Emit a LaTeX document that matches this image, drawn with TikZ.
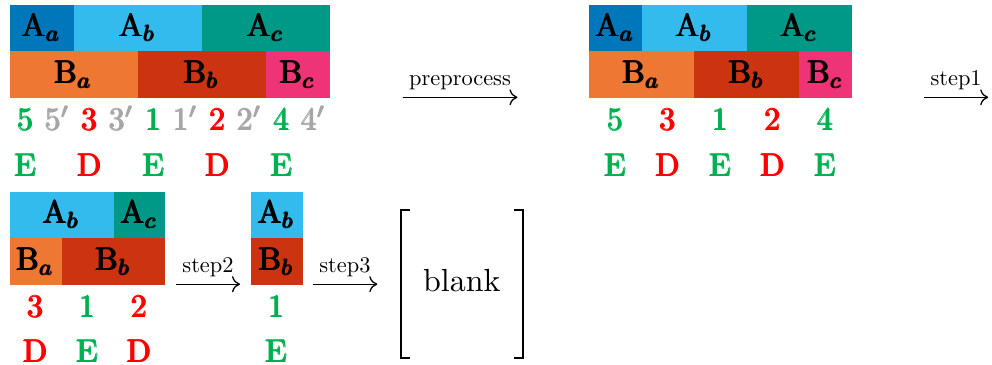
\documentclass[tikz,border=0pt]{standalone}
\usepackage{xcolor}
\usepackage{amsmath}
\usepackage{tikz}
\usetikzlibrary{arrows.meta, positioning}

\definecolor{tolblue}{HTML}{0077BB}
\definecolor{tolcyan}{HTML}{33BBEE}
\definecolor{tolteal}{HTML}{009988}
\definecolor{tolorange}{HTML}{EE7733}
\definecolor{tolred}{HTML}{CC3311}
\definecolor{tolmagenta}{HTML}{EE3377}
\definecolor{keepgreen}{HTML}{00B050}
\definecolor{dropred}{HTML}{FF0000}
\definecolor{dupgray}{HTML}{A6A6A6}

\tikzset{
  cell/.style={anchor=north west, inner sep=0pt, outer sep=0pt, minimum height=14.5pt},
  idx/.style={anchor=base, inner sep=0pt},
  flow/.style={-{To[length=2.5pt,width=5pt]}},
  flowlabel/.style={above, inner sep=2pt}
}
\newcommand{\tinylabel}[1]{\scalebox{0.7}{#1}}
\newcommand{\heavy}[1]{$\pmb{#1}$}

\begin{document}
\begin{tikzpicture}[x=1pt,y=1pt]
                \useasboundingbox (0,0) rectangle (310,-113.75);
                % First table
                \node[cell, fill=tolblue, minimum width=20pt] (a1a) at (3.1,-1.5) {\heavy{\mathrm{A}_{a}}};
                \node[cell, fill=tolcyan, minimum width=40pt] (a1b) at (23.1,-1.5) {\heavy{\mathrm{A}_{b}}};
                \node[cell, fill=tolteal, minimum width=40pt] (a1c) at (63.1,-1.5) {\heavy{\mathrm{A}_{c}}};
                \node[cell, fill=tolorange, minimum width=40pt] (b1a) at (3.1,-16) {\heavy{\mathrm{B}_{a}}};
                \node[cell, fill=tolred, minimum width=40pt] (b1b) at (43.1,-16) {\heavy{\mathrm{B}_{b}}};
                \node[cell, fill=tolmagenta, minimum width=20pt] (b1c) at (83.1,-16) {\heavy{\mathrm{B}_{c}}};
                % First ids
                \node[idx, text=keepgreen] (n1a) at (8.1,-40.8) {\heavy{5}};
                \node[idx, text=dupgray] (n1b) at (18.1,-40.8) {\heavy{5'}};
                \node[idx, text=dropred] (n1c) at (28.1,-40.8) {\heavy{3}};
                \node[idx, text=dupgray] (n1d) at (38.1,-40.8) {\heavy{3'}};
                \node[idx, text=keepgreen] (n1e) at (48.1,-40.8) {\heavy{1}};
                \node[idx, text=dupgray] (n1f) at (58.1,-40.8) {\heavy{1'}};
                \node[idx, text=dropred] (n1g) at (68.1,-40.8) {\heavy{2}};
                \node[idx, text=dupgray] (n1h) at (78.1,-40.8) {\heavy{2'}};
                \node[idx, text=keepgreen] (n1i) at (88.1,-40.8) {\heavy{4}};
                \node[idx, text=dupgray] (n1j) at (98.1,-40.8) {\heavy{4'}};
                % First flags
                \node[idx, text=keepgreen] (f1a) at (8.1,-55) {\heavy{\mathrm{E}}};
                \node[idx, text=dropred] (f1b) at (28.1,-55) {\heavy{\mathrm{D}}};
                \node[idx, text=keepgreen] (f1c) at (48.1,-55) {\heavy{\mathrm{E}}};
                \node[idx, text=dropred] (f1d) at (68.1,-55) {\heavy{\mathrm{D}}};
                \node[idx, text=keepgreen] (f1e) at (88.1,-55) {\heavy{\mathrm{E}}};
                % Second table
                \node[cell, fill=tolblue, minimum width=16.4pt] (a2a) at (184.2,-1.5) {\heavy{\mathrm{A}_{a}}};
                \node[cell, fill=tolcyan, minimum width=32.8pt] (a2b) at (200.6,-1.5) {\heavy{\mathrm{A}_{b}}};
                \node[cell, fill=tolteal, minimum width=32.8pt] (a2c) at (233.4,-1.5) {\heavy{\mathrm{A}_{c}}};
                \node[cell, fill=tolorange, minimum width=32.8pt] (b2a) at (184.2,-16) {\heavy{\mathrm{B}_{a}}};
                \node[cell, fill=tolred, minimum width=32.8pt] (b2b) at (217,-16) {\heavy{\mathrm{B}_{b}}};
                \node[cell, fill=tolmagenta, minimum width=16.4pt] (b2c) at (249.8,-16) {\heavy{\mathrm{B}_{c}}};
                \node[idx, text=keepgreen] (n2a) at (192.4,-40.8) {\heavy{5}};
                \node[idx, text=dropred] (n2b) at (208.8,-40.8) {\heavy{3}};
                \node[idx, text=keepgreen] (n2c) at (225.2,-40.8) {\heavy{1}};
                \node[idx, text=dropred] (n2d) at (241.6,-40.8) {\heavy{2}};
                \node[idx, text=keepgreen] (n2e) at (258,-40.8) {\heavy{4}};
                \node[idx, text=keepgreen] (f2a) at (192.4,-55) {\heavy{\mathrm{E}}};
                \node[idx, text=dropred] (f2b) at (208.8,-55) {\heavy{\mathrm{D}}};
                \node[idx, text=keepgreen] (f2c) at (225.2,-55) {\heavy{\mathrm{E}}};
                \node[idx, text=dropred] (f2d) at (241.6,-55) {\heavy{\mathrm{D}}};
                \node[idx, text=keepgreen] (f2e) at (258,-55) {\heavy{\mathrm{E}}};
                % Third table
                \node[cell, fill=tolcyan, minimum width=32.4pt] (a3b) at (3.1,-59.9) {\heavy{\mathrm{A}_{b}}};
                \node[cell, fill=tolteal, minimum width=16.2pt] (a3c) at (35.5,-59.9) {\heavy{\mathrm{A}_{c}}};
                \node[cell, fill=tolorange, minimum width=16.2pt] (b3a) at (3.1,-74.4) {\heavy{\mathrm{B}_{a}}};
                \node[cell, fill=tolred, minimum width=32.4pt] (b3b) at (19.3,-74.4) {\heavy{\mathrm{B}_{b}}};
                \node[idx, text=dropred] (n3a) at (11.2,-99.1) {\heavy{3}};
                \node[idx, text=keepgreen] (n3b) at (27.4,-99.1) {\heavy{1}};
                \node[idx, text=dropred] (n3c) at (43.6,-99.1) {\heavy{2}};
                \node[idx, text=dropred] (f3a) at (11.2,-113.3) {\heavy{\mathrm{D}}};
                \node[idx, text=keepgreen] (f3b) at (27.4,-113.3) {\heavy{\mathrm{E}}};
                \node[idx, text=dropred] (f3c) at (43.6,-113.3) {\heavy{\mathrm{D}}};
                % Fourth table
                \node[cell, fill=tolcyan, minimum width=16.2pt] (a4b) at (78.4,-59.9) {\heavy{\mathrm{A}_{b}}};
                \node[cell, fill=tolred, minimum width=16.2pt] (b4b) at (78.4,-74.4) {\heavy{\mathrm{B}_{b}}};
                \node[idx, text=keepgreen] (n4a) at (86.5,-99.1) {\heavy{1}};
                \node[idx, text=keepgreen] (f4a) at (86.5,-113.3) {\heavy{\mathrm{E}}};
                % Empty result
                \node[anchor=base] (blank) at (144.3,-91.2) {blank};
                \draw[line width=0.7pt] (128,-65.7) -- (125.2,-65.7) -- (125.2,-111.9) -- (128,-111.9);
                \draw[line width=0.7pt] (160.5,-65.7) -- (163.4,-65.7) -- (163.4,-111.9) -- (160.5,-111.9);
                % Arrows
                \coordinate (pre0) at (125.8,-30.4);
                \coordinate (pre1) at (161.7,-30.4);
                \coordinate (s10) at (288.75,-30.4);
                \coordinate (s11) at (308.8,-30.4);
                \coordinate (s20) at (55,-88.8);
                \coordinate (s21) at (75,-88.8);
                \coordinate (s30) at (97.7,-88.8);
                \coordinate (s31) at (117.9,-88.8);
                \draw[flow] (pre0) -- node[flowlabel] (prelabel) {\tinylabel{preprocess}} (pre1);
                \draw[flow] (s10) -- node[flowlabel] (s1label) {\tinylabel{step1}} (s11);
                \draw[flow] (s20) -- node[flowlabel] (s2label) {\tinylabel{step2}} (s21);
                \draw[flow] (s30) -- node[flowlabel] (s3label) {\tinylabel{step3}} (s31);
\end{tikzpicture}
\end{document}
